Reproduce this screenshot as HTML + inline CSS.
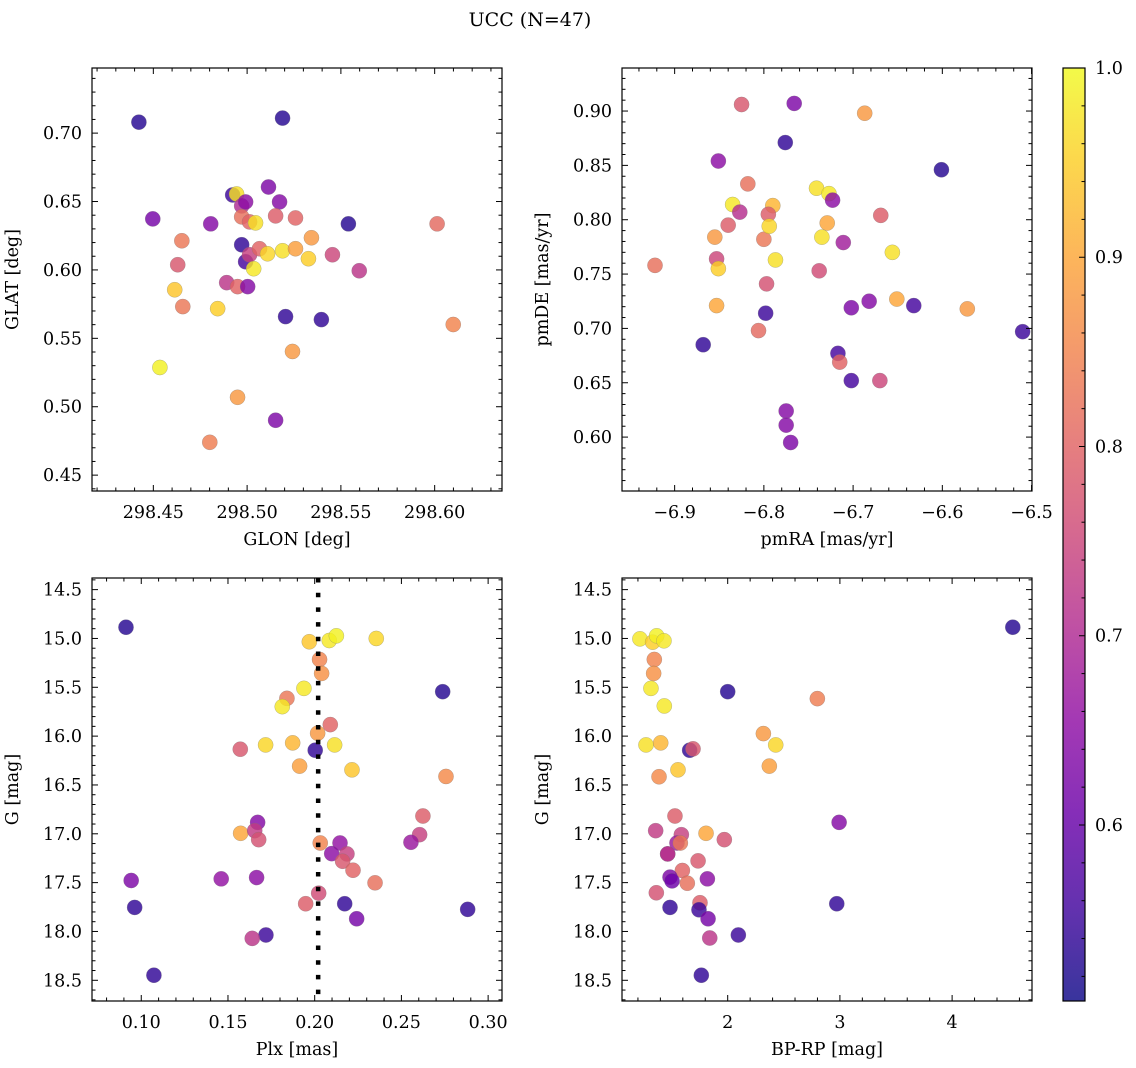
<!DOCTYPE html>
<html><head><meta charset="utf-8"><style>
html,body{margin:0;padding:0;background:#fff;}
svg{display:block;font-family:"DejaVu Serif","Liberation Serif",serif;}
</style></head><body>
<svg id="fig" width="1136" height="1068" viewBox="0 0 1136 1068" xmlns="http://www.w3.org/2000/svg">
<text x="530" y="26" font-size="19" text-anchor="middle">UCC (N=47)</text>
</svg>
<script>
// Panel 1: GLON vs GLAT
const p1_glon=[298.4423,298.5189,298.4497,298.4923,298.4944,298.5114,298.5173,298.4971,298.4992,298.4971,298.5013,298.5045,298.5152,298.5258,298.5540,298.6013,298.4806,298.4652,298.4971,298.4630,298.4992,298.5013,298.5066,298.5035,298.5109,298.5189,298.5258,298.5343,298.5327,298.5455,298.5598,298.4614,298.4657,298.4891,298.4949,298.5003,298.4843,298.5205,298.5396,298.5242,298.6099,298.4535,298.4949,298.5152,298.4801];
const p1_glat=[0.708,0.711,0.6373,0.6548,0.6555,0.6606,0.6497,0.6468,0.6497,0.6388,0.6351,0.6344,0.6395,0.6380,0.6337,0.6337,0.6337,0.6213,0.6184,0.6038,0.6060,0.6111,0.6155,0.6009,0.6118,0.6140,0.6155,0.6235,0.6082,0.6111,0.5994,0.5855,0.5732,0.5907,0.5878,0.5878,0.5717,0.5659,0.5637,0.5404,0.5601,0.5287,0.5069,0.4901,0.4740];
const p1_prob=[0.53,0.53,0.62,0.55,0.97,0.63,0.64,0.70,0.65,0.82,0.80,0.97,0.79,0.80,0.53,0.81,0.64,0.83,0.54,0.78,0.56,0.74,0.80,0.98,0.96,0.97,0.89,0.88,0.95,0.75,0.72,0.94,0.83,0.72,0.80,0.64,0.95,0.54,0.54,0.88,0.85,0.99,0.88,0.63,0.84];
// Panel 2: pmRA vs pmDE
const p2_pmra=[-6.922,-6.825,-6.766,-6.687,-6.851,-6.776,-6.601,-6.818,-6.741,-6.727,-6.723,-6.835,-6.790,-6.827,-6.795,-6.840,-6.800,-6.794,-6.729,-6.855,-6.669,-6.735,-6.711,-6.853,-6.851,-6.787,-6.656,-6.738,-6.797,-6.853,-6.798,-6.651,-6.682,-6.702,-6.632,-6.572,-6.510,-6.868,-6.806,-6.717,-6.715,-6.702,-6.670,-6.775,-6.775,-6.770];
const p2_pmde=[0.758,0.906,0.907,0.898,0.854,0.871,0.846,0.833,0.829,0.824,0.818,0.814,0.813,0.807,0.805,0.795,0.782,0.794,0.797,0.784,0.804,0.784,0.779,0.764,0.755,0.763,0.770,0.753,0.741,0.721,0.714,0.727,0.725,0.719,0.721,0.718,0.697,0.685,0.698,0.677,0.669,0.652,0.652,0.624,0.611,0.595];
const p2_prob=[0.82,0.78,0.63,0.88,0.65,0.54,0.53,0.82,0.97,0.98,0.65,0.98,0.92,0.71,0.79,0.79,0.83,0.96,0.90,0.88,0.79,0.97,0.68,0.75,0.95,0.97,0.97,0.76,0.77,0.90,0.55,0.90,0.64,0.63,0.56,0.88,0.55,0.54,0.81,0.56,0.80,0.56,0.75,0.64,0.64,0.63];
// Panel 3: Plx vs G
const p3_plx=[0.0912,0.1969,0.2084,0.2125,0.2355,0.2028,0.2040,0.1938,0.2738,0.1840,0.1813,0.2090,0.2017,0.1571,0.1717,0.1873,0.2003,0.2115,0.1913,0.2215,0.2757,0.2624,0.1671,0.1573,0.1654,0.1677,0.2605,0.2555,0.2032,0.2146,0.2098,0.2186,0.2161,0.2221,0.2348,0.0942,0.1461,0.1665,0.2023,0.1948,0.2173,0.0962,0.2882,0.2242,0.1719,0.1640,0.1073];
const p3_g=[14.885,15.034,15.021,14.973,15.000,15.215,15.358,15.511,15.545,15.613,15.698,15.882,15.970,16.134,16.090,16.069,16.144,16.090,16.307,16.345,16.413,16.818,16.883,16.995,16.968,17.060,17.009,17.087,17.094,17.094,17.203,17.206,17.281,17.373,17.502,17.478,17.461,17.448,17.608,17.716,17.716,17.754,17.774,17.870,18.036,18.071,18.448];
const p3_prob=[0.53,0.94,0.98,0.99,0.96,0.85,0.87,0.98,0.53,0.83,0.98,0.80,0.88,0.78,0.96,0.92,0.54,0.97,0.89,0.94,0.86,0.79,0.64,0.90,0.73,0.77,0.74,0.67,0.85,0.66,0.65,0.74,0.78,0.80,0.82,0.63,0.66,0.65,0.76,0.79,0.54,0.54,0.54,0.62,0.55,0.72,0.54];
const plx_median=[0.2020];
// Panel 4: BP-RP vs G
const p4_bprp=[1.218,1.331,1.367,1.432,4.541,1.346,1.340,1.316,2.000,2.799,1.435,2.318,2.428,1.272,1.403,1.661,1.691,2.371,1.557,1.388,1.530,2.993,1.358,1.807,1.587,1.970,1.548,1.578,1.465,1.465,1.736,1.596,1.819,1.486,1.504,1.640,1.364,2.972,1.753,1.486,1.744,1.825,2.095,1.840,1.765];
const p4_g=[15.004,15.038,14.973,15.024,14.885,15.215,15.358,15.511,15.545,15.616,15.691,15.974,16.090,16.090,16.069,16.144,16.130,16.307,16.345,16.416,16.818,16.883,16.968,16.995,17.009,17.060,17.094,17.094,17.206,17.206,17.277,17.376,17.461,17.444,17.482,17.506,17.604,17.716,17.706,17.754,17.778,17.870,18.036,18.067,18.448];
const p4_prob=[0.98,0.95,0.99,0.98,0.53,0.85,0.87,0.98,0.53,0.84,0.98,0.88,0.96,0.97,0.92,0.54,0.78,0.89,0.94,0.86,0.79,0.64,0.73,0.90,0.74,0.77,0.67,0.83,0.66,0.72,0.78,0.80,0.65,0.63,0.61,0.82,0.77,0.54,0.79,0.54,0.55,0.62,0.55,0.72,0.54];
const cbar_ticks=[0.6,0.7,0.8,0.9,1.0];
const cbar_labels=["0.6","0.7","0.8","0.9","1.0"];

const VMIN=0.507, VMAX=1.0;
const FS=17.5;
const NS="http://www.w3.org/2000/svg";
const svg=document.getElementById('fig');
const plasma=[[0,13,8,135],[0.1,65,4,157],[0.2,106,0,168],[0.3,143,13,164],[0.4,177,42,144],[0.5,204,71,120],[0.6,225,100,98],[0.7,242,132,75],[0.8,252,166,54],[0.9,252,206,37],[1,240,249,33]];
function cmap(v){let t=(v-VMIN)/(VMAX-VMIN);t=Math.max(0,Math.min(1,t));
 for(let i=0;i<plasma.length-1;i++){const a=plasma[i],b=plasma[i+1];if(t<=b[0]){const f=(t-a[0])/(b[0]-a[0]);
 return 'rgb('+[1,2,3].map(k=>Math.round(a[k]+f*(b[k]-a[k]))).join(',')+')';}}return 'rgb(240,249,33)';}
function mk(tag,attrs,parent){const e=document.createElementNS(NS,tag);for(const k in attrs)e.setAttribute(k,attrs[k]);(parent||svg).appendChild(e);return e;}

function panel(cfg){
 const {name,x0,x1,y0,y1,xmin,xmax,ymin,ymax,invert,xmaj,xmin_step,ymaj,ymin_step,xdec,ydec,xlabel,ylabel,xs,ys,cs}=cfg;
 const g=mk('g',{});
 
 
 const sx=v=>x0+(v-xmin)/(xmax-xmin)*(x1-x0);
 const sy=v=>invert? y0+(v-ymin)/(ymax-ymin)*(y1-y0) : y1-(v-ymin)/(ymax-ymin)*(y1-y0);
 const pg=mk('g',{},g);
 
 
 for(let i=0;i<xs.length;i++){
  const c=mk('circle',{cx:sx(xs[i]),cy:sy(ys[i]),r:7.6,fill:cmap(cs[i]),'fill-opacity':0.82,stroke:'#777','stroke-opacity':0.5,'stroke-width':0.5},pg);
  
  
 }
 if(cfg.vline){for(const v of cfg.vline){const l=mk('line',{x1:sx(v),x2:sx(v),y1:y0,y2:y1,stroke:'#000','stroke-width':4.5,'stroke-dasharray':'4.5 10.2'},g);
  
  }}
 const tg=mk('g',{stroke:'#000','stroke-width':1},g);
 const eps=1e-6;
 for(let k=Math.ceil(xmin/xmin_step-eps);k*xmin_step<=xmax+eps*xmin_step;k++){
  const v=k*xmin_step;
  const X=sx(v);const isMaj=Math.abs(v/xmaj-Math.round(v/xmaj))<1e-4;const L=isMaj?6:3.5;
  mk('line',{x1:X,x2:X,y1:y1,y2:y1-L},tg);mk('line',{x1:X,x2:X,y1:y0,y2:y0+L},tg);
  if(isMaj){const t=mk('text',{x:X,y:y1+27,'font-size':FS,'text-anchor':'middle',stroke:'none',fill:'#000'},g);
   const vv=Math.round(v/xmaj)*xmaj;t.textContent=vv.toFixed(xdec).replace('-','\u2212');
   
   }
 }
 for(let k=Math.ceil(ymin/ymin_step-eps);k*ymin_step<=ymax+eps*ymin_step;k++){
  const v=k*ymin_step;
  const Y=sy(v);const isMaj=Math.abs(v/ymaj-Math.round(v/ymaj))<1e-4;const L=isMaj?6:3.5;
  mk('line',{x1:x0,x2:x0+L,y1:Y,y2:Y},tg);mk('line',{x1:x1,x2:x1-L,y1:Y,y2:Y},tg);
  if(isMaj){const t=mk('text',{x:x0-10,y:Y+6,'font-size':FS,'text-anchor':'end',stroke:'none',fill:'#000'},g);
   t.textContent=(Math.round(v/ymaj)*ymaj).toFixed(ydec);
   
   }
 }
 const fr=mk('rect',{x:x0,y:y0,width:x1-x0,height:y1-y0,fill:'none',stroke:'#000','stroke-width':1.2},g);
 
 
 const xl=mk('text',{x:(x0+x1)/2,y:y1+54,'font-size':FS,'text-anchor':'middle'},g);xl.textContent=xlabel;
 
 
 const yc=(y0+y1)/2, yx=x0-74;
 const yl=mk('text',{x:yx,y:yc,'font-size':FS,'text-anchor':'middle',transform:'rotate(-90 '+yx+' '+yc+')'},g);yl.textContent=ylabel;
 
 
}
panel({name:'glon-glat',x0:92,x1:502,y0:68,y1:491,xmin:298.4173,xmax:298.6359,ymin:0.4384,ymax:0.7476,xmaj:0.05,xmin_step:0.01,ymaj:0.05,ymin_step:0.01,xdec:2,ydec:2,xlabel:'GLON [deg]',ylabel:'GLAT [deg]',xs:p1_glon,ys:p1_glat,cs:p1_prob});
panel({name:'pm',x0:622,x1:1032,y0:68,y1:491,xmin:-6.959,xmax:-6.4995,ymin:0.5504,ymax:0.9396,xmaj:0.1,xmin_step:0.02,ymaj:0.05,ymin_step:0.01,xdec:1,ydec:2,xlabel:'pmRA [mas/yr]',ylabel:'pmDE [mas/yr]',xs:p2_pmra,ys:p2_pmde,cs:p2_prob});
panel({name:'plx-g',x0:92,x1:502,y0:578,y1:1001,xmin:0.0716,xmax:0.308,ymin:14.381,ymax:18.712,invert:true,xmaj:0.05,xmin_step:0.01,ymaj:0.5,ymin_step:0.1,xdec:2,ydec:1,xlabel:'Plx [mas]',ylabel:'G [mag]',xs:p3_plx,ys:p3_g,cs:p3_prob,vline:plx_median});
panel({name:'cmd',x0:622,x1:1032,y0:578,y1:1001,xmin:1.058,xmax:4.712,ymin:14.381,ymax:18.712,invert:true,xmaj:1,xmin_step:0.2,ymaj:0.5,ymin_step:0.1,xdec:0,ydec:1,xlabel:'BP-RP [mag]',ylabel:'G [mag]',xs:p4_bprp,ys:p4_g,cs:p4_prob});

const cb={x0:1063,x1:1085,y0:68,y1:1001};
const defs=mk('defs',{});
const lg=mk('linearGradient',{id:'plg',x1:0,y1:1,x2:0,y2:0},defs);
for(const s of plasma){mk('stop',{offset:s[0],'stop-color':'rgb('+s[1]+','+s[2]+','+s[3]+')'},lg);}
const cbg=mk('g',{});


mk('rect',{x:cb.x0,y:cb.y0,width:cb.x1-cb.x0,height:cb.y1-cb.y0,fill:'url(#plg)','fill-opacity':0.82},cbg);
mk('rect',{x:cb.x0,y:cb.y0,width:cb.x1-cb.x0,height:cb.y1-cb.y0,fill:'none',stroke:'#000','stroke-width':1.2},cbg);
const cy=v=>cb.y1-(v-VMIN)/(VMAX-VMIN)*(cb.y1-cb.y0);
for(let k=26;k<=50;k++){const v=k*0.02;if(v<VMIN-1e-9||v>VMAX+1e-9)continue;const Y=cy(v);const maj=(k%5===0);
 mk('line',{x1:cb.x1,x2:cb.x1-(maj?6:3.5),y1:Y,y2:Y,stroke:'#000','stroke-width':1},cbg);}
for(let i=0;i<cbar_ticks.length;i++){const t=mk('text',{x:cb.x1+10,y:cy(cbar_ticks[i])+6,'font-size':FS},cbg);t.textContent=cbar_labels[i];
 
 }
</script>
</body></html>
